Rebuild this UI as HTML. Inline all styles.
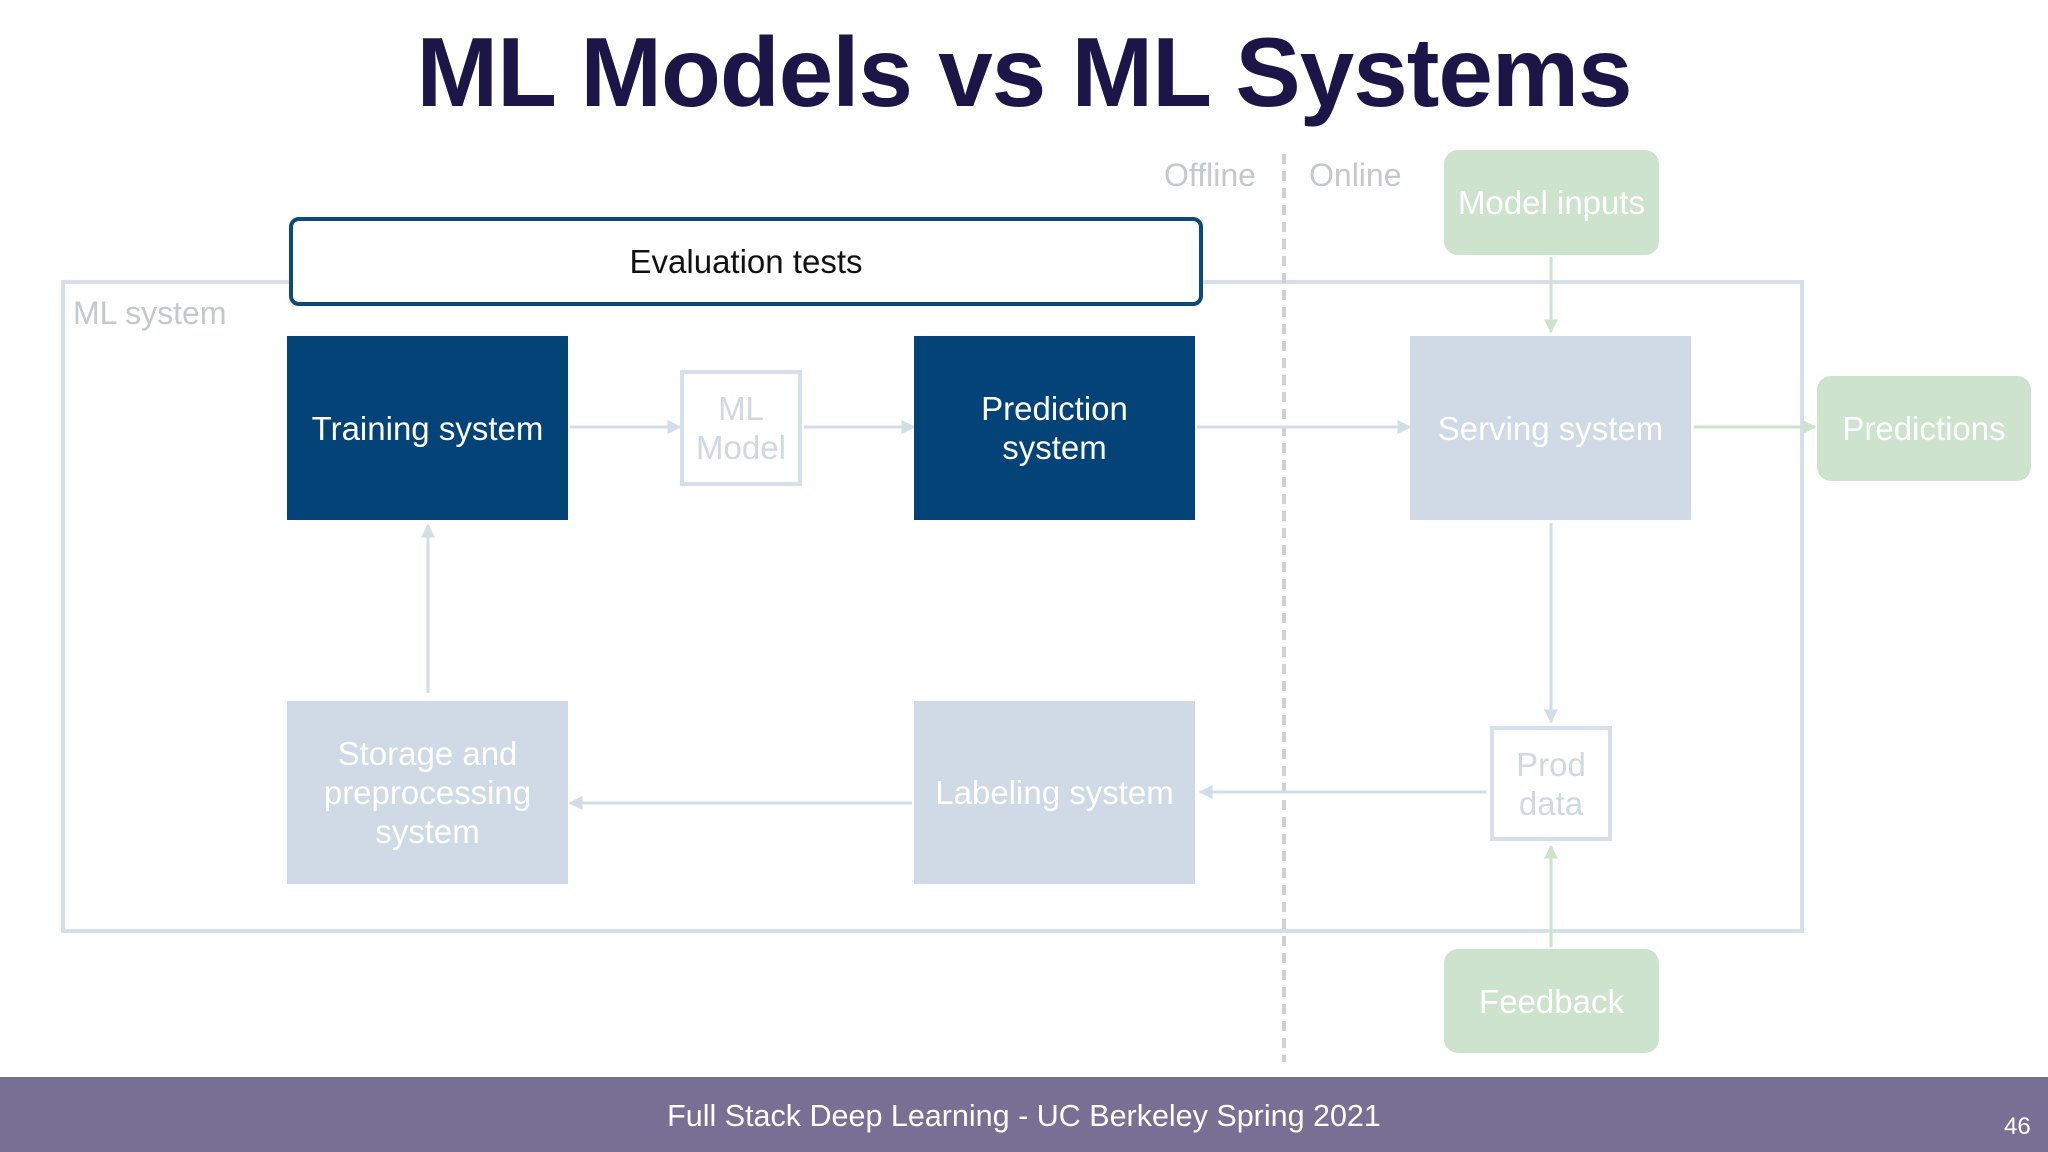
<!DOCTYPE html>
<html><head><meta charset="utf-8"><style>
html,body{margin:0;padding:0;background:#fff;}
body{width:2048px;height:1152px;position:relative;overflow:hidden;font-family:"Liberation Sans",sans-serif;}
.t{position:absolute;left:0;width:2048px;text-align:center;top:16px;font-size:98px;font-weight:bold;color:#1c1648;letter-spacing:-1px;}
.b{position:absolute;display:flex;align-items:center;justify-content:center;text-align:center;box-sizing:border-box;font-size:33px;line-height:39px;}
.dark{background:#034377;color:#fff;}
.light{background:#cfdae6;color:#fff;}
.green{background:#cde3ce;color:#fff;border-radius:14px;}
.outline{border:4px solid #d6e0ea;color:#d0d8e2;background:#fff;}
.lbl{position:absolute;font-size:32px;color:#c4c8cf;}
.footer{position:absolute;left:0;top:1077px;width:2048px;height:75px;background:#786f94;}
</style></head><body>
<div class="t">ML Models vs ML Systems</div>
<svg width="2048" height="1152" style="position:absolute;left:0;top:0">
<defs>
<marker id="a" viewBox="0 0 10 10" markerWidth="14" markerHeight="14" refX="9" refY="5" orient="auto" markerUnits="userSpaceOnUse"><path d="M0,0 L10,5 L0,10z" fill="#d3dde8"/></marker>
<marker id="g" viewBox="0 0 10 10" markerWidth="14" markerHeight="14" refX="9" refY="5" orient="auto" markerUnits="userSpaceOnUse"><path d="M0,0 L10,5 L0,10z" fill="#cde3ce"/></marker>
</defs>
<rect x="63" y="282" width="1739" height="649" fill="none" stroke="#d6e0ea" stroke-width="4"/>
<line x1="1284" y1="154" x2="1284" y2="1062" stroke="#d0d0d0" stroke-width="4" stroke-dasharray="10,7"/>
<g stroke="#d3dde8" stroke-width="3" fill="none">
<line x1="570" y1="427" x2="680" y2="427" marker-end="url(#a)"/>
<line x1="804" y1="427" x2="914" y2="427" marker-end="url(#a)"/>
<line x1="1197" y1="427" x2="1410" y2="427" marker-end="url(#a)"/>
<line x1="1551" y1="523" x2="1551" y2="722" marker-end="url(#a)"/>
<line x1="1486" y1="792" x2="1200" y2="792" marker-end="url(#a)"/>
<line x1="912" y1="803" x2="570" y2="803" marker-end="url(#a)"/>
<line x1="428" y1="693" x2="428" y2="525" marker-end="url(#a)"/>
</g>
<g stroke="#cde3ce" stroke-width="3" fill="none">
<line x1="1551" y1="257" x2="1551" y2="332" marker-end="url(#g)"/>
<line x1="1694" y1="427" x2="1815" y2="427" marker-end="url(#g)"/>
<line x1="1551" y1="947" x2="1551" y2="846" marker-end="url(#g)"/>
</g>
</svg>
<div class="b" style="left:289px;top:217px;width:914px;height:89px;border:4px solid #0b4a7a;border-radius:10px;background:#fff;color:#111;font-size:33px;">Evaluation tests</div>
<div class="lbl" style="left:73px;top:295px;">ML system</div>
<div class="lbl" style="left:1164px;top:157px;">Offline</div>
<div class="lbl" style="left:1309px;top:157px;">Online</div>
<div class="b dark" style="left:287px;top:336px;width:281px;height:184px;">Training system</div>
<div class="b outline" style="left:680px;top:370px;width:122px;height:116px;">ML<br>Model</div>
<div class="b dark" style="left:914px;top:336px;width:281px;height:184px;">Prediction<br>system</div>
<div class="b light" style="left:1410px;top:336px;width:281px;height:184px;">Serving system</div>
<div class="b green" style="left:1817px;top:376px;width:214px;height:105px;">Predictions</div>
<div class="b green" style="left:1444px;top:150px;width:215px;height:105px;">Model inputs</div>
<div class="b light" style="left:287px;top:701px;width:281px;height:183px;">Storage and<br>preprocessing<br>system</div>
<div class="b light" style="left:914px;top:701px;width:281px;height:183px;">Labeling system</div>
<div class="b outline" style="left:1490px;top:726px;width:122px;height:115px;">Prod<br>data</div>
<div class="b green" style="left:1444px;top:949px;width:215px;height:104px;">Feedback</div>
<div class="footer"></div>
<div style="position:absolute;left:0;width:2048px;top:1099px;text-align:center;color:#fff;font-size:30.5px;">Full Stack Deep Learning - UC Berkeley Spring 2021</div>
<div style="position:absolute;left:2004px;top:1113px;color:#fff;font-size:24px;">46</div>
</body></html>
